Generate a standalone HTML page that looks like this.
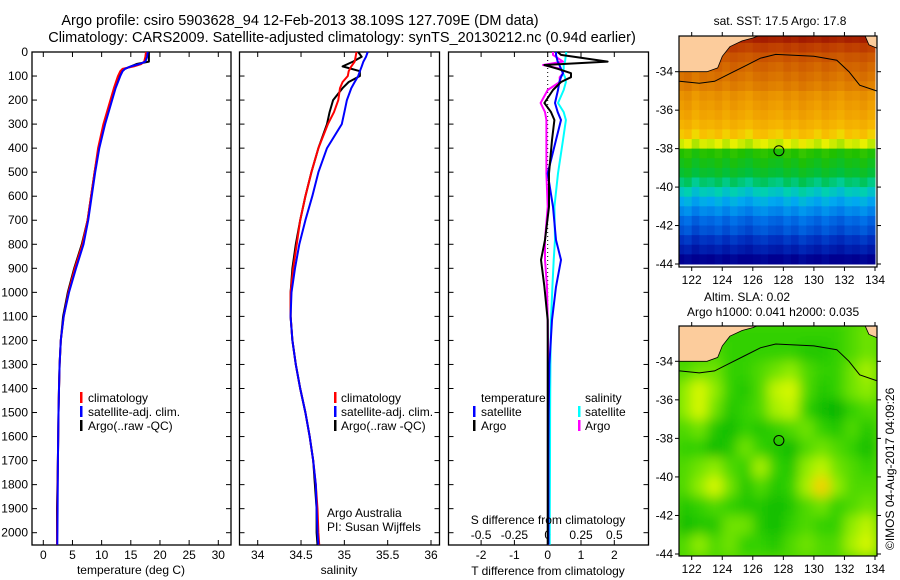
<!DOCTYPE html>
<html><head><meta charset="utf-8">
<style>
html,body{margin:0;padding:0;background:#fff;}
svg{display:block;font-family:"Liberation Sans",Arial,sans-serif;}
text{font-size:12px;fill:#000;}
</style></head>
<body>
<svg id="fig" width="900" height="580" viewBox="0 0 900 580" xmlns="http://www.w3.org/2000/svg">
<defs>
<filter id="blur" x="0" y="0" width="100%" height="100%"><feGaussianBlur stdDeviation="6"/></filter>
<clipPath id="clip1"><rect x="679" y="36" width="198" height="231"/></clipPath>
<clipPath id="clip2"><rect x="679" y="326" width="198" height="230"/></clipPath>
</defs>
<text x="300" y="25" text-anchor="middle" style="font-size:14.5px">Argo profile: csiro 5903628_94 12-Feb-2013 38.109S 127.709E (DM data)</text>
<text x="342" y="42" text-anchor="middle" style="font-size:14.5px">Climatology: CARS2009. Satellite-adjusted climatology: synTS_20130212.nc (0.94d earlier)</text>
<g id="g"></g>
<text x="780" y="25" text-anchor="middle">sat. SST: 17.5 Argo: 17.8</text>
<text x="704" y="301">Altim. SLA: 0.02</text>
<text x="687" y="316">Argo h1000: 0.041 h2000: 0.035</text>
<text transform="translate(894,550) rotate(-90)">©IMOS 04-Aug-2017 04:09:26</text>
</svg>
<script>
// ---------- data ----------
const depthT = [0,20,40,50,60,70,80,100,150,200,300,400,500,600,700,800,900,1000,1100,1200,1300,1400,1500,1700,1900,2050];
const climT = [17.6,17.5,17.3,16.8,15.5,13.6,13.2,12.8,12.1,11.5,10.3,9.4,8.8,8.2,7.6,6.7,5.4,4.3,3.5,3.0,2.8,2.7,2.6,2.5,2.4,2.35];
const satT  = [17.9,17.8,17.5,16.5,15.0,14.0,13.6,13.2,12.4,11.8,10.6,9.6,8.9,8.3,7.7,6.9,5.6,4.4,3.5,3.0,2.8,2.7,2.6,2.5,2.45,2.4];
const argoT = [18.1,18.1,18.1,16.0,15.0,14.0,13.5,13.1,12.3,11.6,10.4,9.5,8.8,8.2,7.6,6.6,5.3,4.2,3.4,3.0,2.8,2.7,2.6,2.5,2.35,2.35];

const depthS = [0,20,40,60,80,100,125,150,200,250,300,400,500,600,700,800,900,1000,1100,1200,1300,1400,1500,1600,1700,1800,1900,2000,2050];
const climS = [35.14,35.13,35.12,35.08,35.05,35.04,34.98,34.95,34.93,34.88,34.81,34.70,34.62,34.55,34.49,34.45,34.41,34.38,34.38,34.40,34.44,34.49,34.55,34.60,34.64,34.67,34.69,34.70,34.71];
const satS  = [35.27,35.25,35.22,35.20,35.18,35.16,35.12,35.08,35.03,35.00,34.97,34.80,34.70,34.63,34.55,34.48,34.43,34.39,34.38,34.40,34.44,34.49,34.55,34.60,34.64,34.67,34.68,34.69,34.70];
const argoS = [35.16,35.20,35.10,34.98,35.18,35.18,35.05,34.98,34.87,34.83,34.80,34.70,34.62,34.55,34.49,34.44,34.40,34.38,34.38,34.40,34.44,34.49,34.55,34.60,34.64,34.66,34.68,34.68,34.69];

const depthD = [0,12,40,54,70,88,105,125,158,212,250,283,366,505,644,782,865,977,1115,1300,1500,1700,1900,2050];
const argoTdiff = [0.3,0.4,1.8,-0.1,0.3,0.7,0.7,0.4,0.16,-0.1,0.1,0.2,0.13,0.04,0.04,-0.08,-0.2,-0.1,0,0,0,0,0,0];
const satTdiff  = [0.25,0.25,0.3,0.35,0.4,0.46,0.4,0.35,0.31,0.22,0.3,0.4,0.25,0,0.16,0.25,0.4,0.25,0.13,0.05,0.03,0.02,0.02,0.02];
const satSdiff  = [0.14,0.137,0.13,0.12,0.12,0.115,0.13,0.137,0.12,0.077,0.12,0.137,0.115,0.077,0.05,0.055,0.045,0.035,0.025,0.02,0.018,0.017,0.016,0.015];
const argoSdiff = [0.04,0.04,0.115,-0.035,0.1,0.115,0.09,0.09,0.0,-0.053,-0.02,-0.01,-0.01,-0.01,0,-0.02,-0.02,-0.005,0,0.005,0.005,0.005,0.005,0.005];

const depthTicks = [0,100,200,300,400,500,600,700,800,900,1000,1100,1200,1300,1400,1500,1600,1700,1800,1900,2000];
const tempTicks = [0,5,10,15,20,25,30];
const salTicks = [34,34.5,35,35.5,36];
const salTickLabels = ["34","34.5","35","35.5","36"];
const tdTicks = [-2,-1,0,1,2];
const sdTicks = [-0.5,-0.25,0,0.25,0.5];
const sdTickLabels = ["-0.5","-0.25","0","0.25","0.5"];
const lonTicks = [122,124,126,128,130,132,134];
const latTicks = [-34,-36,-38,-40,-42,-44];

const sstRowLat = [-32.25,-32.75,-33.25,-33.75,-34.25,-34.75,-35.25,-35.75,-36.25,-36.75,-37.25,-37.75,-38.25,-38.75,-39.25,-39.75,-40.25,-40.75,-41.25,-41.75,-42.25,-42.75,-43.25,-43.75];
const sstRow = [20.8,20.2,19.7,19.4,19.2,19.0,18.7,18.55,18.4,18.2,17.95,17.6,16.6,16.4,16.2,15.9,15.6,15.3,15.0,14.7,14.5,14.2,13.9,13.5];
const sstColAnom = [0,0.1,-0.1,0.05,0,0.1,-0.05,0.1,0,-0.1,0.05,0.1,0,-0.05,0.1,0,0.15,0.05,-0.05,0.1,0,-0.1,0.05,0,0.1,-0.05];

const slaGrid = [
[0.3,0.3,0.3,0.3,0.3,0.3,0.3,0.3,0.3,0.3,0.3,0.4,0.5],
[0.3,0.3,0.4,0.3,0.3,0.3,0.3,0.3,0.2,0.2,0.3,0.4,0.5],
[0.4,0.5,0.5,0.3,0.3,0.4,0.5,0.6,0.4,0.3,0.3,0.5,0.7],
[0.6,0.9,0.6,0.3,0.2,0.4,0.8,0.9,0.4,0.2,0.3,0.5,0.6],
[0.6,0.9,0.5,0.2,0.3,0.4,0.7,0.8,0.3,0.1,0.0,0.3,0.4],
[0.4,0.5,0.2,0.1,0.3,0.2,0.3,0.4,0.5,0.3,0.2,0.4,0.2],
[0.3,0.3,0.1,0.2,0.5,0.3,0.2,0.1,0.4,0.5,0.4,0.3,0.1],
[0.4,0.5,0.6,0.4,0.3,0.7,0.3,0.2,0.6,0.8,0.5,0.4,0.3],
[0.4,0.6,0.9,0.5,0.2,0.4,0.2,0.3,0.7,1.2,0.6,0.4,0.4],
[0.2,0.3,0.4,0.3,0.2,0.2,0.1,0.2,0.4,0.5,0.3,0.4,0.5],
[0.1,0.2,0.2,0.5,0.5,0.2,0.1,0.3,0.4,0.3,0.3,0.6,0.8],
[0.4,0.6,0.4,0.5,0.3,0.3,0.2,0.4,0.5,0.4,0.4,0.7,0.9]];

const coastLon = [121.2,122,123,123.7,124.0,124.5,125.3,126,126.5];
const coastLat = [-34.0,-34.0,-34.0,-33.8,-33.2,-32.7,-32.4,-32.25,-32.1];
const isoLon = [121.2,122.5,123.5,124.5,125.5,126.5,127.5,130,131.5,132.3,133,134.1];
const isoLat = [-34.5,-34.6,-34.5,-34.1,-33.7,-33.3,-33.1,-33.2,-33.4,-34.0,-34.7,-35.0];
const argoLon = 127.709, argoLat = -38.109;

// ---------- helpers ----------
const NS="http://www.w3.org/2000/svg";
const G=document.getElementById('g');
function mk(tag,attrs,parent){const e=document.createElementNS(NS,tag);for(const k in attrs)e.setAttribute(k,attrs[k]);(parent||G).appendChild(e);return e;}
function lin(d0,d1,r0,r1){return v=>r0+(v-d0)*(r1-r0)/(d1-d0);}

const Y = lin(0,2000,52,532.7);
const PT=52, PB=545;
const xT = lin(0,30,43.3,218.3);
const xS = lin(34,36,257.7,431);
const xTd = lin(0,1,547.7,581);
const xSd = lin(0,0.5,547.7,614.3);

function frame(x0,x1,name){
  const r=mk('rect',{x:x0,y:PT,width:x1-x0,height:PB-PT,fill:'none',stroke:'#000','stroke-width':1.3});
  
  
  depthTicks.forEach(d=>{
    mk('line',{x1:x0,x2:x0+5,y1:Y(d),y2:Y(d),stroke:'#000'});
    mk('line',{x1:x1-5,x2:x1,y1:Y(d),y2:Y(d),stroke:'#000'});
  });
}
function xticks(ticks,labels,sc,x0,name){
  ticks.forEach((t,i)=>{
    const x=sc(t);
    mk('line',{x1:x,x2:x,y1:PT,y2:PT+5,stroke:'#000'});
    mk('line',{x1:x,x2:x,y1:PB-5,y2:PB,stroke:'#000'});
    const tx=mk('text',{x:x,y:PB+14,'text-anchor':'middle'});
    tx.textContent=labels[i];
    
    
  });
}
function series(vals,depths,sc,color,name,w){
  const pts=vals.map((v,i)=>sc(v).toFixed(1)+','+Y(depths[i]).toFixed(1)).join(' ');
  const p=mk('polyline',{points:pts,fill:'none',stroke:color,'stroke-width':w||2,'stroke-linejoin':'round'});
  
  
}
function label(x,y,s,name,anchor){
  const t=mk('text',{x:x,y:y,'text-anchor':anchor||'start'});
  t.textContent=s;
  
  
  return t;
}
function legendBar(x,y,color,name){
  const r=mk('rect',{x:x,y:y-10,width:2.5,height:11,fill:color});
  
  
}

depthTicks.forEach(d=>{ label(28,Y(d)+4,String(d),'depth-tick-label','end'); });

// panel 1
frame(32,231,'temperature-panel');
xticks(tempTicks,tempTicks.map(String),xT,32,'temperature');
series(argoT,depthT,xT,'#000','argo-temperature-line');
series(climT,depthT,xT,'#f00','clim-temperature-line');
series(satT,depthT,xT,'#00f','sat-temperature-line');
label(131,574,'temperature (deg C)','temperature-axis-title','middle');
legendBar(80,402,'#f00','legend-clim-marker'); label(88,402,'climatology','legend-climatology');
legendBar(80,416,'#00f','legend-sat-marker'); label(88,416,'satellite-adj. clim.','legend-satellite');
legendBar(80,430,'#000','legend-argo-marker'); label(88,430,'Argo(..raw -QC)','legend-argo');

// panel 2
frame(239.5,439.5,'salinity-panel');
xticks(salTicks,salTickLabels,xS,239.5,'salinity');
series(argoS,depthS,xS,'#000','argo-salinity-line');
series(climS,depthS,xS,'#f00','clim-salinity-line');
series(satS,depthS,xS,'#00f','sat-salinity-line');
label(339,574,'salinity','salinity-axis-title','middle');
legendBar(334,402,'#f00','legend2-clim-marker'); label(341,402,'climatology','legend2-climatology');
legendBar(334,416,'#00f','legend2-sat-marker'); label(341,416,'satellite-adj. clim.','legend2-satellite');
legendBar(334,430,'#000','legend2-argo-marker'); label(341,430,'Argo(..raw -QC)','legend2-argo');
label(327,517,'Argo Australia','argo-australia-label');
label(327,531,'PI: Susan Wijffels','pi-label');

// panel 3
frame(448.5,648.5,'difference-panel');
tdTicks.forEach(t=>{
  const x=xTd(t);
  mk('line',{x1:x,x2:x,y1:PT,y2:PT+5,stroke:'#000'});
  mk('line',{x1:x,x2:x,y1:PB-5,y2:PB,stroke:'#000'});
  label(x,559,String(t),'tdiff-tick-label','middle');
});
sdTicks.forEach((t,i)=>{ label(xSd(t),539,sdTickLabels[i],'sdiff-tick-label','middle'); });
mk('line',{x1:xTd(0),x2:xTd(0),y1:PT,y2:PB,stroke:'#000','stroke-dasharray':'1,3'});
series(satSdiff,depthD,xSd,'#0ff','sat-salinity-diff-line');
series(argoSdiff,depthD,xSd,'#f0f','argo-salinity-diff-line');
series(satTdiff,depthD,xTd,'#00f','sat-temperature-diff-line');
series(argoTdiff,depthD,xTd,'#000','argo-temperature-diff-line');
label(548,524,'S difference from climatology','sdiff-axis-title','middle');
label(548,575,'T difference from climatology','tdiff-axis-title','middle');
label(481,402,'temperature','legend3-temperature-head');
label(585,402,'salinity','legend3-salinity-head');
legendBar(473,416,'#00f','legend3-sat-t-marker'); label(481,416,'satellite','legend3-sat-t');
legendBar(473,430,'#000','legend3-argo-t-marker'); label(481,430,'Argo','legend3-argo-t');
legendBar(578,416,'#0ff','legend3-sat-s-marker'); label(585,416,'satellite','legend3-sat-s');
legendBar(578,430,'#f0f','legend3-argo-s-marker'); label(585,430,'Argo','legend3-argo-s');

// maps
const lonX = lin(122,134,691.7,875);
function colorInterp(stops,v){
  if(v<=stops[0][0])return stops[0][1];
  for(let i=1;i<stops.length;i++){
    if(v<=stops[i][0]){
      const [a,ca]=stops[i-1],[b,cb]=stops[i];const f=(v-a)/(b-a);
      const pa=[1,3,5].map(k=>parseInt(ca.substr(k,2),16)),pb=[1,3,5].map(k=>parseInt(cb.substr(k,2),16));
      return 'rgb('+pa.map((c,j)=>Math.round(c+(pb[j]-c)*f)).join(',')+')';
    }
  }
  return stops[stops.length-1][1];
}
const sstStops=[[13.5,'#000090'],[14.2,'#0030c0'],[14.8,'#0070e8'],[15.3,'#00a8f0'],[15.7,'#00d0b0'],[16.1,'#00c040'],[16.6,'#20c000'],[17.4,'#90e000'],[17.7,'#e8f000'],[18.0,'#f8c000'],[18.5,'#f0a000'],[19.0,'#e08000'],[19.5,'#d06000'],[20.2,'#c04000'],[21,'#a01800']];
const slaStops=[[0,'#00b400'],[0.3,'#30d000'],[0.6,'#90ec00'],[0.9,'#d8f800'],[1.2,'#f8d000']];

function drawMap(y0,y1,clipId,name,isSST){
  const latY=lin(-44,-34,isSST?264:554,isSST?71.7:361.3);
  const g=mk('g',{'clip-path':'url(#'+clipId+')'});
  
  
  if(isSST){
    sstRowLat.forEach((lat,r)=>{
      sstColAnom.forEach((an,c)=>{
        const lon=121+c*0.5;
        const x=lonX(lon),y=latY(lat+0.25);
        const cell=mk('rect',{x:x,y:y,width:lonX(lon+0.5)-x+0.5,height:latY(lat-0.25)-y+0.5,fill:colorInterp(sstStops,sstRow[r]+an)},g);
        
        
      });
    });
  } else {
    const gb=mk('g',{filter:'url(#blur)'},g);
    mk('rect',{x:660,y:300,width:240,height:280,fill:'#50d800'},gb);
    slaGrid.forEach((row,r)=>{
      row.forEach((v,c)=>{
        const lat=-32-r, lon=121+c;
        const x=lonX(lon),y=latY(lat);
        const cell=mk('rect',{x:x,y:y,width:lonX(lon+1)-x+0.5,height:latY(lat-1)-y+0.5,fill:colorInterp(slaStops,v)},gb);
        
        
      });
    });
  }
  let lp='M'+lonX(121)+','+latY(-34.0);
  coastLon.forEach((lo,i)=>{lp+=' L'+lonX(lo).toFixed(1)+','+latY(coastLat[i]).toFixed(1);});
  lp+=' L'+lonX(126.5)+','+(y0-2)+' L'+lonX(121)+','+(y0-2)+' Z';
  const land=mk('path',{d:lp,fill:'#fccc9c',stroke:'#000','stroke-width':0.8},g);
  
  
  const land2=mk('path',{d:'M'+lonX(133.3)+','+(y0-2)+' L'+lonX(133.6)+','+latY(-32.6)+' L'+lonX(134.2)+','+latY(-32.8)+' L'+lonX(134.2)+','+(y0-2)+' Z',fill:'#fccc9c',stroke:'#000','stroke-width':0.8},g);
  
  
  const iso=mk('polyline',{points:isoLon.map((lo,i)=>lonX(lo).toFixed(1)+','+latY(isoLat[i]).toFixed(1)).join(' '),fill:'none',stroke:'#000','stroke-width':1},g);
  
  
  const circ=mk('circle',{cx:lonX(argoLon),cy:latY(argoLat),r:5,fill:'none',stroke:'#000','stroke-width':1});
  
  
  const fr=mk('rect',{x:679,y:y0,width:198,height:y1-y0,fill:'none',stroke:'#000','stroke-width':1.2});
  
  
  lonTicks.forEach(lo=>{
    const x=lonX(lo);
    mk('line',{x1:x,x2:x,y1:y0-4,y2:y0,stroke:'#000'});
    mk('line',{x1:x,x2:x,y1:y1,y2:y1+4,stroke:'#000'});
    label(x,y1+17,String(lo),name+'-lon-label','middle');
  });
  latTicks.forEach(la=>{
    const y=latY(la);
    mk('line',{x1:675,x2:679,y1:y,y2:y,stroke:'#000'});
    mk('line',{x1:877,x2:881,y1:y,y2:y,stroke:'#000'});
    label(673,y+4,String(la),name+'-lat-label','end');
  });
}
drawMap(36,267,'clip1','sst-map',true);
drawMap(326,556,'clip2','sla-map',false);
</script>
</body></html>
